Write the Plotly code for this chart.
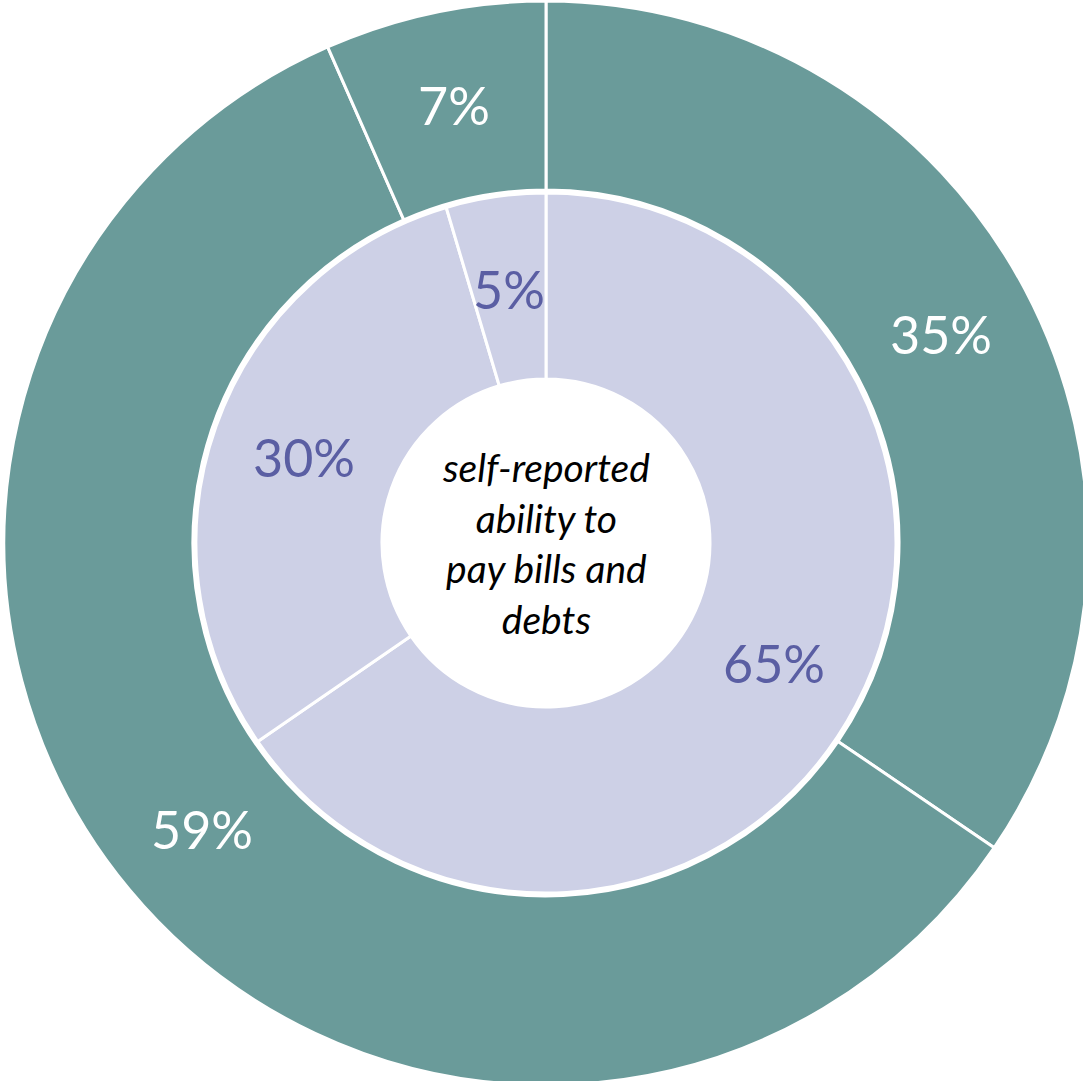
import math
import plotly.graph_objects as go

# outer ring (clockwise from 12 o'clock); values are the arc shares
outer_labels = ['Outer A', 'Outer B', 'Outer C']
outer_values = [34.5, 58.9, 6.6]
outer_text = ['35%', '59%', '7%']

# inner ring
inner_labels = ['Inner A', 'Inner B', 'Inner C']
inner_values = [65.4, 30.0, 4.6]
inner_text = ['65%', '30%', '5%']

center_text = 'self-reported<br>ability to<br>pay bills and<br>debts'

W = 1090
H = 1090
cx, cy = 546, 543      # centre of rings, px from top-left
r_outer = 542
r_outer_hole = 353
r_inner = 350
r_hole = 164


def dom(r):
    return dict(
        x = [(cx - r) / W, (cx + r) / W],
        y = [(H - cy - r) / H, (H - cy + r) / H]
    )


def label_positions(values, r_mid):
    # centre of each slice, at the middle of the ring
    total = sum(values)
    out = []
    start = 0
    for v in values:
        mid = (start + v / 2) / total * 2 * math.pi
        out.append(((cx + r_mid * math.sin(mid)) / W, (H - cy + r_mid * math.cos(mid)) / H))
        start += v
    return out


fig = go.Figure()

fig.add_trace(
    go.Pie(
        labels = outer_labels,
        values = outer_values,
        textinfo = 'none',
        hole = r_outer_hole / r_outer,
        sort = False,
        direction = 'clockwise',
        rotation = 0,
        marker = dict(colors = ['#6A9B9A'] * 3, line = dict(color = 'white', width = 3)),
        domain = dom(r_outer),
        showlegend = False,
        hoverinfo = 'skip'
    )
)

fig.add_trace(
    go.Pie(
        labels = inner_labels,
        values = inner_values,
        textinfo = 'none',
        hole = r_hole / r_inner,
        sort = False,
        direction = 'clockwise',
        rotation = 0,
        marker = dict(colors = ['#CDD0E6'] * 3, line = dict(color = 'white', width = 3)),
        domain = dom(r_inner),
        showlegend = False,
        hoverinfo = 'skip'
    )
)

for (x, y), t in zip(label_positions(outer_values, (r_outer + r_outer_hole) / 2), outer_text):
    fig.add_annotation(
        x = x, y = y, xref = 'paper', yref = 'paper',
        xanchor = 'center', yanchor = 'middle',
        text = t, showarrow = False,
        font = dict(family = 'Lato', size = 52, color = 'white')
    )

for (x, y), t in zip(label_positions(inner_values, (r_inner + r_hole) / 2), inner_text):
    fig.add_annotation(
        x = x, y = y, xref = 'paper', yref = 'paper',
        xanchor = 'center', yanchor = 'middle',
        text = t, showarrow = False,
        font = dict(family = 'Lato', size = 52, color = '#5A5EA3')
    )

fig.add_annotation(
    x = cx / W,
    y = (H - cy) / H,
    xref = 'paper',
    yref = 'paper',
    xanchor = 'center',
    yanchor = 'middle',
    text = '<i>' + center_text + '</i>',
    showarrow = False,
    font = dict(family = 'Lato', size = 39, color = 'black'),
    align = 'center'
)

fig.update_layout(
    width = W,
    height = H,
    margin = dict(l = 0, r = 0, t = 0, b = 0),
    paper_bgcolor = 'white',
    plot_bgcolor = 'white'
)

fig.write_html(
    'out.html',
    config = {'displayModeBar': False},
    post_script = "document.body.style.margin='0';document.body.style.overflow='hidden';"
)
